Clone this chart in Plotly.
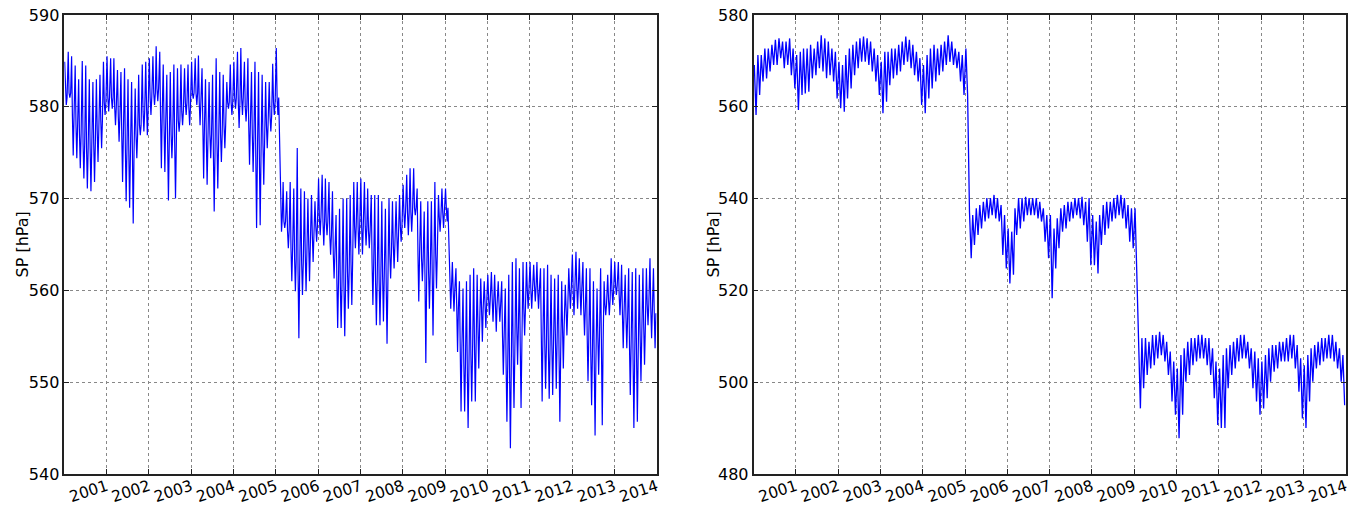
import pandas as pd
import plotly.graph_objects as go

# Monthly values (Jan 2000 .. Dec 2013)
# left panel: upper envelope, lower edge of the dense band, lowest spike
left_hi = [
    584.9, 586.0, 585.5, 584.5, 583.0, 585.0, 584.5, 583.0, 582.7, 583.0, 583.5, 584.9,
    585.5, 585.3, 585.3, 584.0, 583.8, 584.2, 583.0, 582.7, 582.0, 583.5, 584.6, 584.9,
    585.3, 585.5, 586.6, 586.0, 584.6, 583.5, 583.8, 584.6, 584.2, 584.6, 584.2, 584.6,
    584.9, 585.3, 585.6, 584.2, 583.0, 582.7, 583.5, 585.3, 583.8, 583.5, 582.7, 584.6,
    584.9, 586.0, 586.4, 584.9, 585.3, 583.8, 584.9, 583.8, 583.5, 582.7, 582.7, 584.7,
    586.4, 572.9, 571.8, 570.8, 571.8, 571.1, 575.5, 571.1, 570.8, 570.0, 570.4, 569.7,
    572.2, 572.6, 572.2, 571.8, 570.8, 568.2, 568.9, 570.0, 570.0, 570.4, 571.8, 571.8,
    572.2, 571.8, 571.1, 570.4, 570.4, 570.4, 569.7, 568.9, 570.0, 569.7, 569.7, 570.4,
    571.5, 572.6, 573.3, 573.3, 571.1, 569.7, 568.6, 569.7, 569.7, 571.8, 570.4, 571.1,
    571.1, 563.9, 563.1, 562.4, 561.0, 560.2, 561.0, 561.7, 562.4, 561.7, 561.3, 561.0,
    561.7, 562.0, 561.7, 561.0, 561.0, 560.2, 561.7, 563.1, 563.5, 562.4, 563.1, 563.1,
    563.1, 562.8, 563.1, 562.4, 562.4, 562.8, 561.7, 561.3, 561.7, 561.0, 560.6, 562.4,
    563.9, 564.2, 563.5, 563.1, 562.4, 562.4, 561.0, 560.2, 562.4, 561.0, 561.7, 563.5,
    563.1, 563.1, 562.8, 561.7, 562.4, 562.0, 562.4, 561.7, 562.4, 562.4, 563.5, 562.4,
]
left_core = [
    581.0, 581.5, 579.0, 578.0, 577.0, 576.0, 575.5, 575.5, 576.0, 577.5, 578.5, 580.5,
    581.0, 581.0, 580.0, 579.0, 577.0, 575.5, 575.0, 575.0, 577.0, 578.0, 579.5, 580.0,
    581.0, 581.5, 582.0, 579.0, 578.0, 576.0, 577.0, 576.0, 578.5, 579.5, 580.5, 580.0,
    581.5, 581.5, 580.5, 578.0, 576.5, 577.0, 575.0, 576.0, 577.0, 578.0, 580.5, 580.5,
    581.0, 580.5, 581.0, 580.0, 578.0, 577.0, 574.5, 574.5, 576.0, 578.0, 579.0, 580.5,
    581.0, 568.0, 567.5, 566.5, 564.5, 563.5, 562.0, 563.0, 564.0, 565.0, 566.0, 567.0,
    568.0, 567.5, 567.5, 566.0, 564.0, 561.0, 560.5, 560.5, 562.0, 563.0, 567.0, 567.0,
    567.0, 567.0, 566.5, 563.0, 561.0, 561.0, 561.5, 560.5, 564.0, 565.0, 566.0, 567.0,
    568.5, 568.5, 568.5, 569.0, 564.0, 563.5, 561.0, 562.0, 562.0, 564.0, 568.0, 568.5,
    569.0, 560.5, 560.0, 558.0, 553.5, 552.0, 551.5, 553.0, 554.0, 556.0, 558.0, 558.5,
    559.0, 559.0, 558.5, 558.5, 555.0, 552.0, 551.0, 553.0, 556.0, 554.0, 558.0, 560.0,
    560.0, 560.5, 560.0, 555.0, 554.0, 553.5, 554.0, 554.5, 553.0, 556.0, 558.0, 560.0,
    560.0, 560.5, 560.0, 558.0, 555.0, 553.0, 552.0, 555.0, 554.0, 558.5, 559.0, 560.0,
    560.5, 559.5, 557.5, 557.0, 554.0, 552.5, 553.0, 555.0, 556.0, 558.5, 558.0, 557.5,
]
left_lo = [
    580.2, 581.0, 574.7, 574.4, 573.3, 572.2, 571.1, 570.8, 571.8, 574.0, 575.5, 579.1,
    579.5, 579.8, 578.0, 576.2, 571.8, 569.7, 569.0, 567.3, 574.4, 576.9, 577.3, 576.9,
    579.1, 580.2, 580.6, 573.3, 572.9, 569.8, 574.4, 570.0, 577.3, 578.0, 579.1, 578.0,
    580.9, 580.2, 578.0, 572.2, 571.5, 574.4, 568.6, 571.1, 574.0, 575.5, 579.8, 579.1,
    579.8, 577.7, 579.1, 578.4, 573.7, 572.9, 566.8, 567.1, 571.5, 575.5, 577.3, 579.1,
    579.1, 566.4, 566.8, 564.6, 561.0, 559.9, 554.8, 559.5, 559.9, 561.0, 563.1, 565.3,
    566.0, 564.9, 566.0, 563.9, 561.3, 555.9, 555.9, 555.0, 558.0, 558.4, 564.6, 563.9,
    563.9, 564.9, 564.6, 558.4, 556.2, 556.2, 556.6, 554.2, 561.3, 562.4, 563.1, 565.3,
    566.8, 566.0, 566.4, 568.2, 558.8, 561.0, 552.1, 558.0, 555.1, 560.2, 566.4, 566.8,
    567.5, 558.0, 557.7, 553.3, 546.8, 546.8, 545.0, 547.9, 547.9, 551.5, 554.4, 555.9,
    557.3, 556.6, 555.5, 556.6, 550.8, 545.7, 542.8, 547.2, 551.9, 547.2, 555.1, 558.0,
    558.0, 558.8, 558.0, 547.9, 549.3, 548.2, 548.6, 549.3, 545.7, 551.5, 555.1, 558.0,
    557.3, 558.0, 557.3, 555.1, 550.1, 547.5, 544.2, 550.8, 545.3, 557.3, 557.3, 558.4,
    559.5, 557.3, 553.7, 553.7, 548.6, 545.0, 545.7, 550.1, 551.9, 556.2, 554.8, 553.7,
]
# right panel: upper and lower envelope
right_hi = [
    569.1, 571.3, 571.3, 572.7, 572.7, 573.5, 574.6, 574.9, 574.2, 574.2, 574.9, 572.7,
    571.3, 572.0, 572.7, 572.7, 573.5, 572.7, 574.2, 575.6, 574.9, 574.2, 572.7, 572.0,
    569.8, 569.1, 571.3, 572.7, 573.5, 574.2, 574.9, 575.3, 574.9, 574.2, 572.7, 571.3,
    569.8, 572.0, 572.0, 572.7, 572.7, 573.5, 574.2, 575.3, 574.6, 573.5, 572.0, 570.6,
    569.1, 571.3, 572.7, 573.5, 572.7, 573.5, 574.2, 575.6, 574.2, 572.7, 572.0, 571.3,
    572.7, 537.2, 536.4, 537.9, 538.6, 539.3, 540.1, 540.1, 540.8, 540.1, 538.6, 536.4,
    533.5, 532.8, 537.9, 540.1, 540.1, 540.4, 540.1, 540.1, 540.1, 539.3, 537.9, 536.4,
    536.4, 533.5, 535.7, 537.9, 538.6, 539.3, 539.3, 540.1, 540.1, 540.4, 539.3, 540.1,
    536.4, 535.0, 536.4, 538.6, 539.3, 539.3, 540.1, 540.8, 540.8, 540.1, 538.6, 537.9,
    537.9, 507.4, 509.6, 509.6, 508.8, 510.3, 510.3, 511.0, 510.3, 508.8, 506.7, 504.5,
    503.0, 505.9, 507.4, 508.8, 509.6, 509.6, 510.3, 510.3, 509.6, 509.6, 507.4, 504.5,
    503.0, 505.9, 507.4, 508.1, 508.8, 509.6, 510.3, 510.3, 508.8, 507.4, 506.7, 505.2,
    504.5, 505.9, 507.4, 508.1, 508.1, 508.8, 508.8, 509.6, 510.3, 510.3, 508.1, 505.2,
    503.7, 505.9, 507.4, 508.1, 508.8, 509.6, 509.6, 510.3, 510.3, 508.8, 507.4, 505.9,
]
right_lo = [
    558.2, 562.6, 565.5, 566.2, 567.7, 569.1, 569.1, 570.6, 568.4, 569.1, 566.9, 564.0,
    559.3, 562.6, 562.9, 563.3, 566.2, 566.9, 568.4, 567.7, 566.2, 566.9, 565.5, 561.8,
    559.7, 558.9, 561.8, 564.0, 566.9, 568.4, 569.8, 569.8, 569.1, 567.7, 565.5, 562.6,
    558.6, 561.1, 564.7, 566.2, 566.9, 567.7, 569.1, 569.8, 568.4, 566.9, 565.5, 560.4,
    558.6, 561.8, 564.0, 565.5, 566.9, 567.7, 569.1, 569.8, 569.1, 568.4, 565.5, 562.6,
    562.6, 527.0, 529.9, 532.1, 533.5, 535.0, 535.7, 536.4, 535.7, 535.0, 527.7, 524.8,
    521.5, 523.4, 532.1, 533.5, 535.0, 536.4, 536.4, 536.4, 535.7, 535.0, 530.6, 527.0,
    518.3, 524.8, 529.2, 532.8, 533.5, 535.0, 535.7, 536.4, 535.7, 534.2, 530.6, 525.5,
    525.5, 523.7, 529.9, 532.1, 533.5, 535.0, 535.7, 536.4, 535.7, 533.5, 530.6, 529.2,
    524.8, 494.3, 498.7, 501.6, 503.0, 503.7, 505.2, 505.9, 504.5, 501.6, 495.8, 492.9,
    487.8, 492.9, 500.1, 501.6, 503.7, 504.5, 505.2, 505.2, 503.7, 501.6, 496.5, 490.7,
    490.0, 490.0, 498.7, 501.6, 503.0, 504.5, 505.2, 505.2, 503.0, 498.7, 495.8, 492.9,
    494.3, 496.5, 500.1, 502.3, 503.0, 504.5, 504.5, 504.5, 505.2, 503.0, 497.9, 492.1,
    490.0, 495.8, 500.1, 503.0, 503.7, 504.5, 505.2, 505.2, 504.5, 503.0, 500.1, 495.0,
]
months = pd.date_range("2000-01-01", periods=168, freq="MS")
year_ticks = list(range(2001, 2015))
y_title = "SP [hPa]"


def left_series():
    xs, ys = [], []
    for m, h, c, l in zip(months, left_hi, left_core, left_lo):
        xs += [m + pd.Timedelta(days=d) for d in (3, 10, 17, 24)]
        ys += [h, c, l, c]
    return xs, ys


def right_series():
    xs, ys = [], []
    for m, h, l in zip(months, right_hi, right_lo):
        xs += [m + pd.Timedelta(days=7), m + pd.Timedelta(days=22)]
        ys += [h, l]
    return xs, ys


W, H = 1352, 508
fig = go.Figure()
lx, ly = left_series()
rx, ry = right_series()
fig.add_trace(go.Scatter(x=lx, y=ly, mode="lines", line=dict(color="#0000ff", width=1.2),
                         xaxis="x", yaxis="y", showlegend=False, hoverinfo="skip"))
fig.add_trace(go.Scatter(x=rx, y=ry, mode="lines", line=dict(color="#0000ff", width=1.3),
                         xaxis="x2", yaxis="y2", showlegend=False, hoverinfo="skip"))

xfont = dict(family="DejaVu Sans", size=15.5, color="black")
yfont = dict(family="DejaVu Sans", size=16, color="black")
tickvals = [f"{y}-01-01" for y in year_ticks]
ticktext = [str(y) for y in year_ticks]
xcommon = dict(type="date", range=["2000-01-01", "2014-01-01"], tickvals=tickvals,
               ticktext=ticktext, tickangle=-18, ticklabelstandoff=-4,
               showgrid=True, gridcolor="#888888",
               griddash="dot", gridwidth=1, showline=True, linecolor="#222222", linewidth=1.5,
               mirror="allticks", ticks="inside", ticklen=5, tickcolor="#222222",
               tickfont=xfont, zeroline=False, automargin=False)
ycommon = dict(showgrid=True, gridcolor="#888888", griddash="dot", gridwidth=1,
               showline=True, linecolor="#222222", linewidth=1.5, mirror="allticks",
               ticks="inside", ticklen=5, tickcolor="#222222", tickfont=yfont,
               zeroline=False, automargin=False)

fig.update_layout(
    width=W, height=H,
    margin=dict(l=0, r=0, t=15, b=34),
    paper_bgcolor="white", plot_bgcolor="white",
    xaxis=dict(domain=[64.3 / W, 656.7 / W], anchor="y", **xcommon),
    yaxis=dict(domain=[0, 1], anchor="x", range=[540, 590], dtick=10, **ycommon),
    xaxis2=dict(domain=[753.5 / W, 1345.7 / W], anchor="y2", **xcommon),
    yaxis2=dict(domain=[0, 1], anchor="x2", range=[480, 580], dtick=20, **ycommon),
    annotations=[
        dict(text=y_title, xref="paper", yref="paper", x=22 / W, y=0.5, textangle=-90,
             showarrow=False, font=dict(family="DejaVu Sans", size=16, color="black"),
             xanchor="center", yanchor="middle"),
        dict(text=y_title, xref="paper", yref="paper", x=713 / W, y=0.5, textangle=-90,
             showarrow=False, font=dict(family="DejaVu Sans", size=16, color="black"),
             xanchor="center", yanchor="middle"),
    ],
)

fig.write_html("out.html", config={"displayModeBar": False},
               post_script="document.body.style.margin='0px';")
